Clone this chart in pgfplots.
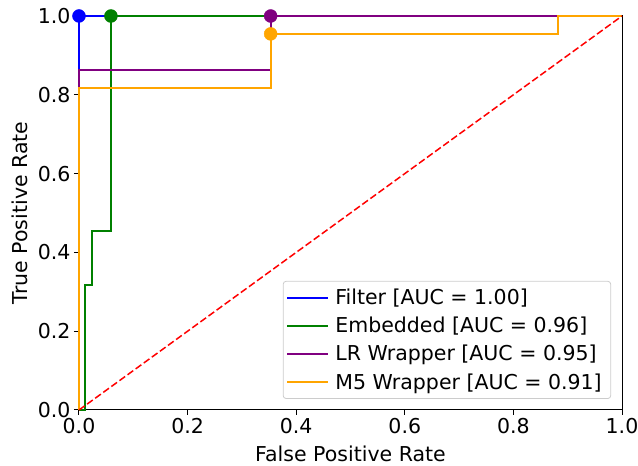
\documentclass[border=0pt]{standalone}
\usepackage{pgfplots}
\pgfplotsset{compat=1.18}
\usepackage{fontspec}
\setmainfont{DejaVu Sans}
\definecolor{mblue}{RGB}{0,0,255}
\definecolor{mgreen}{RGB}{0,128,0}
\definecolor{mpurple}{RGB}{128,0,128}
\definecolor{morange}{RGB}{255,165,0}
\definecolor{legframe}{RGB}{204,204,204}
\begin{document}
\begin{tikzpicture}
\begin{axis}[
  name=ax,
  scale only axis, width=543pt, height=394pt,
  xmin=0, xmax=1, ymin=0, ymax=1,
  xtick={0,0.2,0.4,0.6,0.8,1}, ytick={0,0.2,0.4,0.6,0.8,1},
  xticklabels={0.0,0.2,0.4,0.6,0.8,1.0},
  yticklabels={0.0,0.2,0.4,0.6,0.8,1.0},
  tick label style={font=\fontsize{20.5}{24}\selectfont},
  /pgf/number format/assume math mode=true,
  tick align=outside, tick pos=left, major tick length=5pt,
  axis line style={line width=1pt},
  every tick/.style={black, line width=1pt},
  xlabel={False Positive Rate}, ylabel={True Positive Rate},
  label style={font=\fontsize{20.5}{24}\selectfont},
  xlabel style={yshift=-5pt},
  ylabel style={yshift=3pt},
  clip=false,
  legend cell align=left,
  legend image code/.code={\draw[#1, line width=2.2pt] (0pt,0pt) -- (41pt,0pt);},
  legend style={at={(0.98,0.028)}, anchor=south east,
    font=\fontsize{20.5}{24}\selectfont, draw=legframe, line width=0.8pt,
    rounded corners=3pt, inner xsep=3pt, inner ysep=8pt,
    row sep=11pt, nodes={inner xsep=6pt, inner ysep=0pt}},
]
\addplot[mblue, line width=2.2pt] coordinates {(0,0) (0,1) (1,1)};
\addlegendentry{Filter [AUC = 1.00]}
\addplot[mgreen, line width=2.2pt] coordinates {(0,0) (0.01176,0) (0.01176,0.31818) (0.02353,0.31818) (0.02353,0.45455) (0.05882,0.45455) (0.05882,1) (1,1)};
\addlegendentry{Embedded [AUC = 0.96]}
\addplot[mpurple, line width=2.2pt] coordinates {(0,0) (0,0.86364) (0.35294,0.86364) (0.35294,1) (1,1)};
\addlegendentry{LR Wrapper [AUC = 0.95]}
\addplot[morange, line width=2.2pt] coordinates {(0,0) (0,0.81818) (0.35294,0.81818) (0.35294,0.95455) (0.88235,0.95455) (0.88235,1) (1,1)};
\addlegendentry{M5 Wrapper [AUC = 0.91]}
\addplot[red, line width=1.5pt, dash pattern=on 7pt off 3pt, forget plot] coordinates {(0,0) (1,1)};
\addplot[only marks, mark=*, mark size=6.5pt, mark options={fill=mblue, draw=mblue}, forget plot] coordinates {(0,1)};
\addplot[only marks, mark=*, mark size=6.5pt, mark options={fill=mgreen, draw=mgreen}, forget plot] coordinates {(0.05882,1)};
\addplot[only marks, mark=*, mark size=6.5pt, mark options={fill=mpurple, draw=mpurple}, forget plot] coordinates {(0.35294,1)};
\addplot[only marks, mark=*, mark size=6.5pt, mark options={fill=morange, draw=morange}, forget plot] coordinates {(0.35294,0.95455)};
\end{axis}
\pgfresetboundingbox
\path ([xshift=-79pt,yshift=-56pt]ax.south west) rectangle ([xshift=16pt,yshift=16pt]ax.north east);
\end{tikzpicture}
\end{document}
